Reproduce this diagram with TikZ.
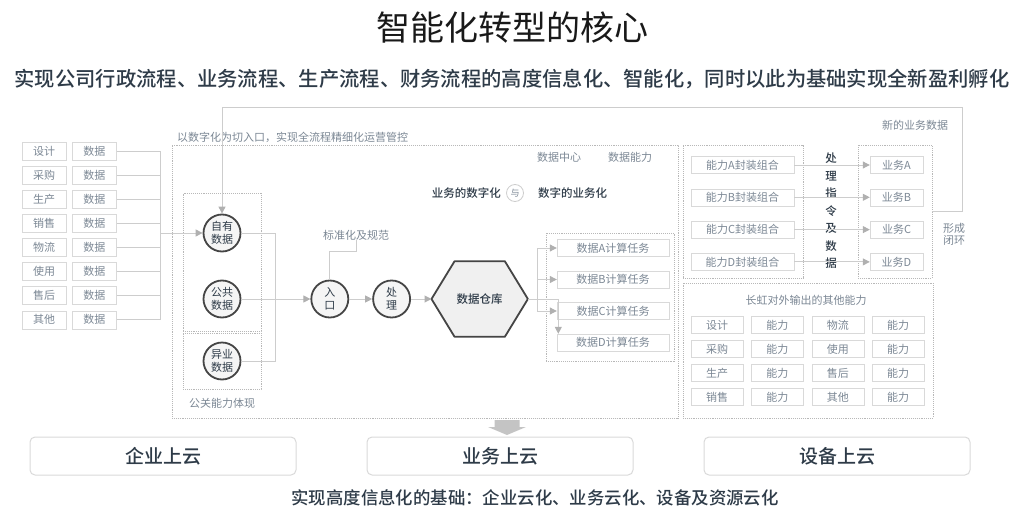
\documentclass[tikz,border=0pt]{standalone}
\usepackage{fontspec}
\setmainfont{Noto Sans CJK SC}[BoldFont={* Medium}]
\usetikzlibrary{arrows.meta, positioning, backgrounds}
\definecolor{txtgray}{HTML}{7B8794}
\definecolor{boxgray}{HTML}{D9D9D9}
\definecolor{dotgray}{HTML}{B8B8B8}
\definecolor{linegray}{HTML}{CDCDCD}
\definecolor{tipgray}{HTML}{B0B0B0}
\definecolor{inkdark}{HTML}{2E3B48}
\definecolor{ringdark}{HTML}{454545}
\newcommand{\fsmall}{\fontsize{11}{13}\selectfont}

\begin{document}
\begin{tikzpicture}[
  x=1pt, y=-1pt,
  srcbox/.style={draw=boxgray, minimum width=44pt, minimum height=18pt, inner sep=0pt,
                 font=\fsmall, text=txtgray},
  taskbox/.style={srcbox, minimum width=112pt, minimum height=17pt},
  capbox/.style={srcbox, minimum width=103pt, minimum height=17pt},
  bizbox/.style={srcbox, minimum width=53pt, minimum height=17pt},
  gridbox/.style={srcbox, minimum width=52pt, minimum height=17pt},
  grpbox/.style={draw=dotgray, densely dotted, line width=0.9pt, inner sep=0pt},
  ring/.style={circle, draw=ringdark, line width=1.8pt, fill=gray!8, minimum size=37pt,
               inner sep=0pt, align=center, font=\fsmall, text=inkdark},
  note/.style={font=\fsmall, text=txtgray, inner sep=0pt},
  keynote/.style={font=\fontsize{11.5}{14}\selectfont\bfseries, text=inkdark, inner sep=0pt},
  cloud/.style={draw=boxgray, line width=1pt, rounded corners=5pt, minimum width=266pt,
                minimum height=38pt, font=\fontsize{19}{22}\selectfont\bfseries, text=inkdark},
  link/.style={draw=linegray, line width=1pt},
  arr/.style={link, -{Triangle[length=7pt, width=7pt, color=tipgray]}},
  node distance=6pt
]
  \useasboundingbox (0,0) rectangle (1024,524);

  % Headings
  \node[font=\fontsize{34}{40}\selectfont, text=black!90] (title) at (512,28) {智能化转型的核心};
  \node[font=\fontsize{20.3}{24}\selectfont\bfseries, text=inkdark] (sub) at (512,79)
    {实现公司行政流程、业务流程、生产流程、财务流程的高度信息化、智能化，同时以此为基础实现全新盈利孵化};

  % Source data
  \foreach \name [count=\i] in {设计,采购,生产,销售,物流,使用,售后,其他} {
    \node[srcbox] (s\i) at (44, {151+24.1*(\i-1)}) {\name};
    \node[srcbox, right=of s\i] (d\i) {数据};
  }
  \coordinate (bus) at (160,233);
  \foreach \i in {1,...,8} \draw[link] (d\i.east) -| (bus);

  % Digitalisation core
  \node[grpbox, minimum width=506pt, minimum height=273pt] (core) at (425,281.5) {};
  \node[note, anchor=west] (coretitle) at (177,137) {以数字化为切入口，实现全流程精细化运营管控};
  \node[grpbox, minimum width=78pt, minimum height=138pt] (ingrp) at (222,262) {};
  \node[grpbox, minimum width=78pt, minimum height=56pt] (altgrp) at (222,361) {};
  \node[note] (pr) at (222,403) {公关能力体现};

  \node[ring] (own) at (222,233) {自有\\数据};
  \node[ring] (pub) at (222,299) {公共\\数据};
  \node[ring] (alt) at (222,361) {异业\\数据};
  \node[ring, right=69pt of pub] (entry) {入\\口};
  \node[ring, right=23pt of entry] (proc) {处\\理};
  \node[minimum width=96pt, minimum height=75pt, inner sep=0pt, right=20.5pt of proc,
        font=\fontsize{11.5}{14}\selectfont\bfseries, text=inkdark] (wh) {数据仓库};
  \begin{scope}[on background layer]
    \draw[draw=ringdark, line width=1.8pt, fill=gray!12, line join=round]
      (wh.west) -- ([xshift=23pt]wh.north west) -- ([xshift=-23pt]wh.north east)
      -- (wh.east) -- ([xshift=-23pt]wh.south east) -- ([xshift=23pt]wh.south west) -- cycle;
  \end{scope}
  \node[note] (std) at (356,235) {标准化及规范};

  \draw[arr] (bus) -- (own.west);
  \draw[link] (own.east) -- ++(34,0) |- (alt.east);
  \draw[arr] (pub.east) -- (entry.west);
  \draw[arr] (entry) -- (proc);
  \draw[arr] (proc) -- (wh.west);
  \draw[link] (entry.north) -- ++(0,-28) -| (std.south);

  \node[circle, draw=linegray, line width=0.8pt, minimum size=17pt, inner sep=0pt,
        font=\fontsize{9}{10}\selectfont, text=txtgray] (yu) at (515,193) {与};
  \node[keynote, left=5pt of yu] (bizdig) {业务的数字化};
  \node[keynote, right=14pt of yu] (digbiz) {数字的业务化};
  \node[note] (dc) at (559,157) {数据中心};
  \node[note] (dp) at (630,157) {数据能力};

  % Computing tasks
  \node[grpbox, minimum width=128pt, minimum height=128pt] (taskgrp) at (610,297) {};
  \foreach \k [count=\i] in {A,B,C,D}
    \node[taskbox] (t\k) at (613, {248+31.5*(\i-1)}) {数据\k 计算任务};
  \coordinate (split) at (537,299);
  \draw[link] (split |- tA.west) -- (split |- tC.west);
  \foreach \k in {A,B,C} \draw[arr] (split |- t\k.west) -- (t\k.west);
  \draw[arr] (wh.east) -| ([xshift=1.5pt]tD.north west);

  % Capabilities and businesses
  \node[grpbox, minimum width=120pt, minimum height=133pt] (capgrp) at (743,211.5) {};
  \node[grpbox, minimum width=74pt, minimum height=133pt] (bizgrp) at (895,211.5) {};
  \node[keynote, align=center, font=\fontsize{11.5}{17.5}\selectfont\bfseries] (cmd) at (831,211)
    {处\\理\\指\\令\\及\\数\\据};
  \foreach \k [count=\i] in {A,B,C,D} {
    \node[capbox] (c\k) at (742.5, {165+32.3*(\i-1)}) {能力\k 封装组合};
    \node[bizbox] (b\k) at (896.5, {165+32.3*(\i-1)}) {业务\k};
    \draw[arr] (c\k.east) -- (b\k.west);
  }

  % Closed loop
  \coordinate (loop) at (962,108);
  \draw[arr] (bizgrp.east) -| (loop) -| (own.north);
  \node[note] (newdata) at (915,125) {新的业务数据};
  \node[note, align=center, font=\fontsize{11}{12}\selectfont] (closed) at (954,234) {形成\\闭环};

  % Other capabilities
  \node[grpbox, minimum width=250pt, minimum height=135pt] (othgrp) at (808,350.5) {};
  \node[note] (othtitle) at (806,300) {长虹对外输出的其他能力};
  \foreach \a/\b [count=\i] in {设计/物流,采购/使用,生产/售后,销售/其他} {
    \node[gridbox] (ga\i) at (717, {325+24*(\i-1)}) {\a};
    \node[gridbox, right=8pt of ga\i] (gb\i) {能力};
    \node[gridbox, right=8pt of gb\i] (gc\i) {\b};
    \node[gridbox, right=8pt of gc\i] (gd\i) {能力};
  }

  % Cloud layer
  \node[cloud] (ent) at (163,456) {企业上云};
  \node[cloud] (svc) at (500,456) {业务上云};
  \node[cloud] (dev) at (837,456) {设备上云};
  \coordinate (down) at (507,420);
  \fill[tipgray!75, shift={(down)}] (-12.5,0) -- (12.5,0) -- (12.5,7) -- (19,7) -- (0,15)
    -- (-19,7) -- (-12.5,7) -- cycle;
  \node[font=\fontsize{17.4}{20}\selectfont\bfseries, text=inkdark] (base) at (535,498)
    {实现高度信息化的基础：企业云化、业务云化、设备及资源云化};
\end{tikzpicture}
\end{document}
